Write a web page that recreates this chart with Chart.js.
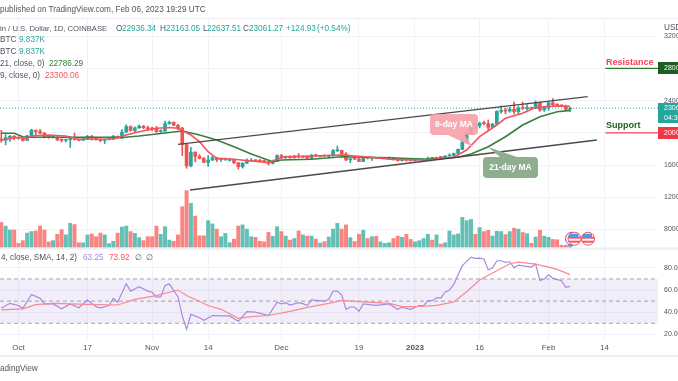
<!DOCTYPE html>
<html>
<head>
<meta charset="utf-8">
<title>Bitcoin / U.S. Dollar</title>
<script src="https://cdn.jsdelivr.net/npm/chart.js@4"></script>
<style>
  html, body { margin: 0; padding: 0; background: #fff; }
  #wrap { position: relative; width: 678px; height: 381px; overflow: hidden; font-family: "Liberation Sans", sans-serif; filter: blur(0.35px); }
  canvas { position: absolute; left: 0; top: 0; }
  .t { position: absolute; font-size: 8.2px; line-height: 10px; white-space: nowrap; color: #50535e; }
  .tag { position: absolute; left: 658px; width: 20px; color: #fff; font-size: 7px; line-height: 10px; overflow: hidden; padding-left: 6px; box-sizing: border-box; }
  .note { position: absolute; left: 606px; font-size: 9px; font-weight: bold; line-height: 10px; }
</style>
</head>
<body>
<div id="wrap">
  <canvas id="grafico" width="678" height="381"></canvas>

  <div class="t" style="left:0;top:5px">published on TradingView.com, Feb 06, 2023 19:29 UTC</div>
  <div class="t" style="left:0;top:24px;font-size:7.7px">in / U.S. Dollar, 1D, COINBASE</div>
  <div class="t" style="left:116px;top:24px">O</div><div class="t" style="left:122px;top:24px;color:#26a69a">22936.34</div>
  <div class="t" style="left:160px;top:24px">H</div><div class="t" style="left:166px;top:24px;color:#26a69a">23163.05</div>
  <div class="t" style="left:203px;top:24px">L</div><div class="t" style="left:207px;top:24px;color:#26a69a">22637.51</div>
  <div class="t" style="left:243px;top:24px">C</div><div class="t" style="left:249px;top:24px;color:#26a69a">23061.27</div>
  <div class="t" style="left:286px;top:24px;color:#26a69a">+124.93</div><div class="t" style="left:317px;top:24px;color:#26a69a">(+0.54%)</div>
  <div class="t" style="left:0;top:35px">BTC</div><div class="t" style="left:19px;top:35px;color:#26a69a">9.837K</div>
  <div class="t" style="left:0;top:47px">BTC</div><div class="t" style="left:19px;top:47px;color:#26a69a">9.837K</div>
  <div class="t" style="left:0;top:59px">21, close, 0)</div><div class="t" style="left:49px;top:59px;color:#2e7d32">22786.29</div>
  <div class="t" style="left:0;top:71px">9, close, 0)</div><div class="t" style="left:45px;top:71px;color:#f7525f">23300.06</div>
  <div class="t" style="left:1px;top:253px">4, close, SMA, 14, 2)</div>
  <div class="t" style="left:83px;top:253px;color:#a78bdb">63.25</div><div class="t" style="left:109px;top:253px;color:#f7525f">73.92</div>
  <div class="t" style="left:135px;top:253px">∅</div><div class="t" style="left:146px;top:253px">∅</div>
  <div class="t" style="left:0;top:364px">adingView</div>
  <div class="t" style="left:664px;top:23px">USD</div>

  <div class="note" style="top:57px;color:#f7405c">Resistance</div>
  <div class="note" style="top:120px;color:#1b5e20">Support</div>
  <div class="tag" style="top:62px;height:12px;line-height:12px;background:#1b5e20">28000</div>
  <div class="tag" style="top:103px;height:20px;background:#26a69a">23061<br>04:30</div>
  <div class="tag" style="top:127px;height:12px;line-height:12px;background:#f23645">20000</div>
</div>

<script>
// eje X: dia 0 = 1 de octubre 2022
var tickDays = [0, 16, 31, 44, 61, 79, 92, 107, 123, 136];
var tickLabels = ['Oct', '17', 'Nov', '14', 'Dec', '19', '2023', '16', 'Feb', '14'];
var priceTicks = [32000, 28000, 24000, 20000, 16000, 12000, 8000];
var rsiTicks = [80, 60, 40, 20];
var rsiBands = [70, 50, 30];

// velas diarias, 27 sep a 6 feb
var firstDay = -4;
var opens = [19210,19080,19410,19590,
  19430,19310,19050,19630,20330,20160,19960,19530,19420,19440,19130,19060,19155,19380,19180,19065,19265,19550,19330,19125,19040,19165,19205,19570,19330,20090,20770,20290,20600,20815,20630,
  20490,20480,20150,20210,21150,21300,20925,20600,18540,15880,17590,17070,16810,16330,16615,16900,16660,16690,16700,16700,16280,15780,16225,16600,16600,16520,16460,16430,16210,16440,
  17165,16970,17090,16890,17110,16970,17090,16840,17230,17130,17130,17090,17210,17780,17815,17360,16630,16780,16740,16440,16900,16825,16830,16800,16830,16835,16920,16705,16550,16635,16600,
  16540,16615,16675,16675,16850,16830,16950,16945,17120,17180,17440,17940,18850,19930,20950,20870,21190,21130,20680,21070,22660,22780,22700,22920,22630,23060,23010,23080,23030,23740,22830,
  23130,23730,23490,23430,23330,22936.34];
var highs = [20300,19780,19650,19630,
  19480,19390,19690,20450,20360,20440,20050,19620,19550,19520,19270,19220,19510,19950,19230,19380,19680,19690,19350,19330,19240,19240,19680,19600,20400,20990,20870,20740,20980,20930,20830,
  20700,20790,20380,21450,21470,21360,21060,20670,18590,18200,17650,17300,16930,17180,17130,16970,16860,16870,16800,16750,16290,16300,16770,16800,16670,16700,16600,16480,16620,17250,
  17320,17100,17150,17200,17420,17110,17130,17310,17360,17190,17260,17240,17950,18370,17850,17530,16800,16880,16820,17060,16910,16850,16860,16870,16860,17000,16950,16790,16650,16640,16630,
  16630,16790,16780,16980,16880,16980,16970,17180,17390,17490,18000,19100,19950,21090,21000,21330,21440,21600,21180,22730,23340,23050,23170,23800,23280,23820,23500,23180,23960,23800,23320,
  23800,24240,23590,23470,23430,23163.05];
var lows = [18820,18500,18930,19150,
  19180,18970,19120,19490,19760,19860,19350,19320,19330,19030,18850,18870,18190,19080,19000,19060,19260,19100,19070,18900,18650,19120,19150,19270,19300,20060,20200,20000,20570,20500,20250,
  20240,20060,20050,20180,21070,20880,20400,17180,15590,15750,16400,16750,16300,15820,16550,16400,16430,16550,16500,16180,15490,15610,16170,16470,16420,16400,16330,15990,16130,16430,
  16880,16800,16860,16880,16890,16900,16690,16730,17080,17100,17080,16880,17100,17650,17280,16550,16270,16670,16400,16400,16750,16570,16770,16790,16790,16810,16600,16480,16490,16460,16480,
  16490,16620,16650,16650,16670,16770,16910,16920,17110,17140,17320,17900,18700,19890,20550,20610,20970,20380,20650,21020,22450,22350,22550,22300,22350,22900,22800,22880,23020,22660,22660,
  22790,23370,23250,23260,22770,22637.51];
var closes = [19080,19410,19590,19430,
  19310,19050,19630,20330,20160,19960,19530,19420,19440,19130,19060,19155,19380,19180,19065,19265,19550,19330,19125,19040,19165,19205,19570,19330,20090,20770,20290,20600,20815,20630,20490,
  20480,20150,20210,21150,21300,20925,20600,18540,15880,17590,17070,16810,16330,16615,16900,16660,16690,16700,16700,16280,15780,16225,16600,16600,16520,16460,16430,16210,16440,17165,
  16970,17090,16890,17110,16970,17090,16840,17230,17130,17130,17090,17210,17780,17815,17360,16630,16780,16740,16440,16900,16825,16830,16800,16830,16835,16920,16705,16550,16635,16600,16540,
  16615,16675,16675,16850,16830,16950,16945,17120,17180,17440,17940,18850,19930,20950,20870,21190,21130,20680,21070,22660,22780,22700,22920,22630,23060,23010,23080,23030,23740,22830,23130,
  23730,23490,23430,23330,22930,23061.27];

// volumen en miles de BTC
var volumes = [82,70,57,57,13,22,47,52,54,70,
  57,18,22,43,58,41,79,75,15,15,
  41,44,35,47,41,12,20,47,67,70,
  52,46,32,22,35,35,70,43,68,24,
  20,41,134,187,145,103,38,38,88,77,
  60,35,46,15,27,70,74,60,35,33,
  20,18,49,36,68,52,37,24,29,54,
  41,37,37,27,14,19,34,60,79,60,
  74,32,19,43,56,29,35,36,18,13,
  15,29,37,33,43,26,18,22,29,43,
  24,41,11,15,54,41,44,99,88,92,
  43,65,52,56,37,53,52,42,52,63,
  60,49,45,13,34,56,37,33,26,25,
  7,7,9.837];

// medias moviles
var ma9Days = [-4,0,2,3,7,11,14,22,24,28,32,35,37,40,42,44,46,50,54,58,60,62,68,75,82,86,95,101,104,107,111,113,117,120,125,128];
var ma9 = [19105,19440,19316,19600,19726,19600,19192,19229,19600,20136,20558,20658,20558,19726,18894,17650,16832,16708,16497,16286,16708,17030,17118,17242,16956,16708,16621,16956,17863,19515,20968,21800,22421,23166,23328,23300.06];
var ma21Days = [-4,-1,1,2,22,24,28,35,38,42,46,50,54,59,61,68,75,86,95,102,105,109,113,117,121,125,128];
var ma21 = [19937,19937,19515,19440,19440,19416,19600,20036,20223,19726,19105,18273,17366,16410,16621,16708,17031,16907,16708,16956,17366,18273,19515,20968,21999,22620,22786.29];

// RSI y su media
var rsiDays = [-4,-2,0,1,3,5,6,8,10,12,14,16,18,19,21,22,23,25,26,28,30,31,32,33,34,35,37,38,39,40,42,43,45,47,49,51,53,55,58,60,61,62,63,65,66,67,68,71,72,73,74,75,76,77,78,79,80,83,86,88,89,91,93,94,95,96,97,98,99,100,101,103,105,106,107,108,109,110,111,112,113,114,115,116,119,120,121,122,123,124,126,127,128];
var rsi = [43.5,48,46,43.5,56,52.5,47.5,47.5,43,47.5,44,51,45,44,46,52.5,49,65.7,59,63,59,58,53.5,54,64,65.4,54,36.6,24.6,38,35,32.7,37,36.6,36.6,31.8,40.5,40,37,49,47.5,48.6,46.5,48.6,47.7,46,51,50,51.6,59,59,55.5,42.6,44.7,44.7,40.8,47.4,46.2,47.4,42.6,44.4,42.6,46,46,50.4,50.4,53,53,58,60,65,82,89.7,88.5,88.8,88,78.3,79.8,86.4,86.4,85,85.5,80,82.5,80.7,83.4,68.7,70,73.8,70.5,68.4,62.4,63.25];
var rsiMaDays = [-4,1,4,8,16,23,27,32,37,39,44,47,51,54,58,63,67,72,75,79,86,89,93,97,101,104,107,111,114,116,120,123,125,128];
var rsiMa = [42,43,46.8,48,47,46.5,51.6,55,60,55,46,42.6,34.5,36,37,40.8,44.4,48,50.7,49.5,48,45,45.3,46.2,49.2,58.5,69,77.4,83.7,85.2,83.4,80.7,78.6,73.92];

// lineas dibujadas a mano sobre el grafico
var channelUpDays = [37, 132.1], channelUp = [18571, 24483];
var channelDownDays = [39.8, 134.2], channelDown = [12895, 19105];
var resistanceDays = [136.2, 148.4], resistance = [28000, 28000];
var supportDays = [136.2, 148.4], support = [20000, 20000];
var lastPrice = 23061.27;

var xMin = -4.3, xMax = 148.4;

function pares(xs, ys) {
  return xs.map(function (x, i) { return { x: x, y: ys[i] }; });
}
function linea(xs, ys, color, width, axis, order) {
  return { type: 'line', data: pares(xs, ys), borderColor: color, borderWidth: width, pointRadius: 0,
    yAxisID: axis, order: order, tension: 0 };
}
function sinPadding(s) {
  s.paddingTop = 0; s.paddingBottom = 0; s.paddingLeft = 0; s.paddingRight = 0;
}

var dayOf = function (i) { return firstDay + i; };
var subio = function (i) { return closes[i] >= opens[i]; };

var datasets = [];

// candles: wick + body as floating bars
datasets.push({ type: 'bar', yAxisID: 'yPrice', order: 6, barThickness: 1, grouped: false,
  data: closes.map(function (c, i) { return { x: dayOf(i), y: [lows[i], highs[i]] }; }),
  backgroundColor: closes.map(function (c, i) { return subio(i) ? '#26a69a' : '#ef5350'; }) });
datasets.push({ type: 'bar', yAxisID: 'yPrice', order: 5, barThickness: 3, grouped: false, minBarLength: 1,
  data: closes.map(function (c, i) { return { x: dayOf(i), y: [opens[i], c] }; }),
  backgroundColor: closes.map(function (c, i) { return subio(i) ? '#26a69a' : '#ef5350'; }) });
datasets.push({ type: 'bar', yAxisID: 'yVol', order: 9, barThickness: 3.3, grouped: false,
  data: volumes.map(function (v, i) { return { x: dayOf(i), y: v }; }),
  backgroundColor: closes.map(function (c, i) { return subio(i) ? '#64bfb4' : '#f98583'; }) });

datasets.push(linea(ma21Days, ma21, '#3a7d3e', 1.6, 'yPrice', 3));
datasets.push(linea(ma9Days, ma9, '#f7525f', 1.6, 'yPrice', 2));
datasets.push(linea(channelUpDays, channelUp, '#4a4a4a', 1.3, 'yPrice', 1));
datasets.push(linea(channelDownDays, channelDown, '#4a4a4a', 1.3, 'yPrice', 1));
datasets.push(linea(resistanceDays, resistance, '#2e7d32', 1.3, 'yPrice', 1));
datasets.push(linea(supportDays, support, '#f7405c', 1.3, 'yPrice', 1));

var ultimo = linea([xMin, xMax], [lastPrice, lastPrice], '#26a69a', 1, 'yPrice', 8);
ultimo.borderDash = [1, 2];
datasets.push(ultimo);

// RSI pane
var banda = linea([xMin, xMax], [rsiBands[0], rsiBands[0]], '#a5a7ad', 1, 'yRsi', 8);
banda.borderDash = [4, 3];
banda.fill = { value: rsiBands[2] };
banda.backgroundColor = 'rgba(126,87,194,0.1)';
datasets.push(banda);
rsiBands.slice(1).forEach(function (b) {
  var l = linea([xMin, xMax], [b, b], '#a5a7ad', 1, 'yRsi', 8);
  l.borderDash = [4, 3];
  datasets.push(l);
});
datasets.push(linea(rsiDays, rsi, '#a78bdb', 1.2, 'yRsi', 3));
datasets.push(linea(rsiMaDays, rsiMa, '#f98a90', 1.2, 'yRsi', 2));

function globo(ctx, x, y, w, h, tail, color, texto) {
  ctx.save();
  ctx.fillStyle = color;
  ctx.beginPath();
  ctx.roundRect(x, y, w, h, 4);
  ctx.moveTo(tail[0], tail[1]);
  ctx.lineTo(tail[2], tail[3]);
  ctx.lineTo(tail[4], tail[5]);
  ctx.closePath();
  ctx.fill();
  ctx.fillStyle = '#fff';
  ctx.font = 'bold 8.5px "Liberation Sans"';
  ctx.textAlign = 'center';
  ctx.textBaseline = 'middle';
  ctx.fillText(texto, x + w / 2, y + h / 2);
  ctx.restore();
}

function bandera(ctx, cx, cy) {
  ctx.save();
  ctx.beginPath();
  ctx.arc(cx, cy, 6.5, 0, Math.PI * 2);
  ctx.fillStyle = '#fff';
  ctx.fill();
  ctx.save();
  ctx.clip();
  ctx.fillStyle = '#f7525f';
  ctx.fillRect(cx - 7, cy - 2, 14, 2);
  ctx.fillRect(cx - 7, cy + 2, 14, 2);
  ctx.fillStyle = '#4a9be8';
  ctx.fillRect(cx - 6, cy - 5, 10, 4);
  ctx.restore();
  ctx.strokeStyle = '#f7525f';
  ctx.lineWidth = 1;
  ctx.stroke();
  ctx.restore();
}

var adornos = {
  id: 'adornos',
  beforeDraw: function (chart) {
    // los labels del eje derecho se recortan al ancho de la escala
    chart.scales.yPrice.right = 678;
    chart.scales.yRsi.right = 678;
  },
  afterDraw: function (chart) {
    var ctx = chart.ctx;
    ctx.save();
    ctx.fillStyle = '#eceef3';
    ctx.fillRect(0, 18, 678, 1);
    ctx.fillRect(0, 247.5, 678, 2);
    ctx.fillRect(0, 355, 678, 2);
    ctx.restore();
    globo(ctx, 430, 114, 48, 21, [448, 135, 465, 135, 473, 147], 'rgba(248,160,168,0.9)', '9-day MA');
    globo(ctx, 483, 157, 55, 21, [500, 157, 517, 157, 488, 147], '#8fae8f', '21-day MA');
    ctx.save();
    ctx.beginPath();
    ctx.arc(572, 238.7, 6.5, 0, Math.PI * 2);
    ctx.strokeStyle = '#a040c0';
    ctx.lineWidth = 1;
    ctx.stroke();
    ctx.restore();
    bandera(ctx, 574.5, 238.7);
    bandera(ctx, 588, 238.7);
  }
};

var axisFont = { family: '"Liberation Sans"', size: 7 };
var grafico = new Chart(document.getElementById('grafico').getContext('2d'), {
  type: 'bar',
  data: { datasets: datasets },
  plugins: [adornos],
  options: {
    responsive: false,
    animation: false,
    events: [],
    layout: { padding: { top: 18, right: 20, bottom: 21, left: 0 } },
    plugins: { legend: { display: false }, tooltip: { enabled: false } },
    scales: {
      x: {
        type: 'linear', min: xMin, max: xMax, offset: false,
        grid: { color: '#f0f3fa', offset: false, drawTicks: false },
        border: { display: false },
        afterBuildTicks: function (s) { s.ticks = tickDays.map(function (d) { return { value: d }; }); },
        afterFit: function (s) { sinPadding(s); s.height = 20; },
        ticks: {
          autoSkip: false, maxRotation: 0, padding: 3, color: '#50535e',
          font: function (c) {
            return { family: axisFont.family, size: 8, weight: c.tick && c.tick.value === 92 ? 'bold' : 'normal' };
          },
          callback: function (v) { return tickLabels[tickDays.indexOf(v)]; }
        }
      },
      yPrice: {
        position: 'right', min: 16000 - 175 * 124.2, max: 16000 + 147 * 124.2, weight: 1,
        grid: { color: '#f0f3fa', drawTicks: false },
        border: { display: false },
        afterBuildTicks: function (s) { s.ticks = priceTicks.map(function (v) { return { value: v }; }); },
        afterFit: function (s) { sinPadding(s); s.width = 0; },
        ticks: { padding: 6, color: '#50535e', font: axisFont, autoSkip: false, callback: function (v) { return v === 8000 ? '8000.00' : String(v); } }
      },
      yRsi: {
        position: 'right', min: 14.9, max: 305.5, weight: 2,
        grid: { color: '#f0f3fa', drawTicks: false },
        border: { display: false },
        afterBuildTicks: function (s) { s.ticks = rsiTicks.map(function (v) { return { value: v }; }); },
        afterFit: function (s) { sinPadding(s); s.width = 0; },
        ticks: { padding: 6, color: '#50535e', font: axisFont, autoSkip: false, callback: function (v) { return v.toFixed(2); } }
      },
      yVol: { display: false, min: -305.9, max: 756.7 }
    }
  }
});
</script>
</body>
</html>
